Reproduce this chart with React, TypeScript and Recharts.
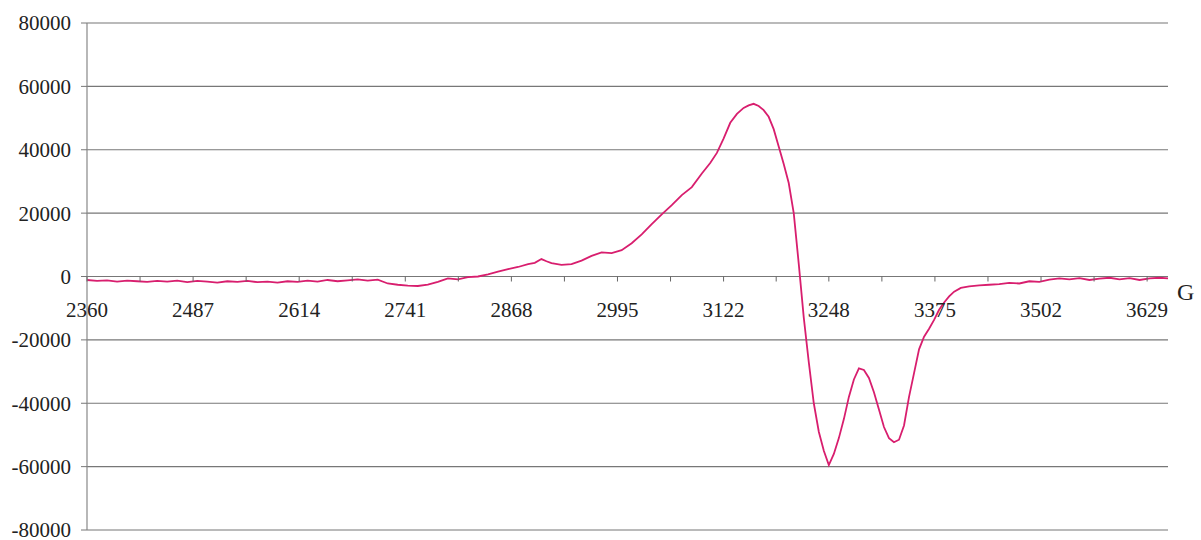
import React from 'react';
import { LineChart, Line, XAxis, YAxis, CartesianGrid } from 'recharts';

// magnetic field (G) and signal intensity
const field = [
  2360, 2372, 2384, 2396, 2408, 2420, 2432, 2444, 2456, 2468, 2480, 2492, 2504, 2516, 2528,
  2540, 2552, 2564, 2576, 2588, 2600, 2612, 2624, 2636, 2648, 2660, 2672, 2684, 2696, 2708,
  2720, 2732, 2744, 2756, 2768, 2780, 2792, 2804, 2816, 2828, 2840, 2852, 2864, 2876, 2888,
  2896, 2904, 2910, 2916, 2928, 2940, 2952, 2964, 2976, 2988, 3000, 3012, 3024, 3036, 3048,
  3060, 3072, 3084, 3096, 3106, 3114, 3122, 3130, 3138, 3146, 3152, 3158, 3164, 3170, 3176,
  3182, 3188, 3194, 3200, 3206, 3212, 3218, 3224, 3230, 3236, 3242, 3248, 3254, 3260, 3266,
  3272, 3278, 3284, 3290, 3296, 3302, 3308, 3314, 3320, 3326, 3332, 3338, 3344, 3350, 3356,
  3362, 3368, 3374, 3380, 3386, 3392, 3398, 3406, 3416, 3428, 3440, 3452, 3464, 3476, 3488,
  3500, 3512, 3524, 3536, 3548, 3560, 3572, 3584, 3596, 3608, 3620, 3632, 3644, 3654,
];

const signal = [
  -1100, -1400, -1200, -1600, -1300, -1500, -1700, -1400, -1600, -1300, -1800, -1400, -1600, -1900, -1500,
  -1700, -1400, -1800, -1600, -1900, -1500, -1700, -1300, -1600, -1100, -1500, -1200, -900, -1300, -1000,
  -2200, -2600, -2900, -3000, -2600, -1700, -600, -900, -200, 0, 700, 1500, 2300, 3000, 3900,
  4300, 5500, 4800, 4200, 3700, 3900, 5000, 6500, 7600, 7400, 8300, 10500, 13300, 16500, 19600,
  22500, 25700, 28200, 32500, 35800, 39000, 43500, 48500, 51300, 53200, 54000, 54500, 53800, 52500, 50400,
  46500, 41000, 35500, 29500, 20000, 4000, -13000, -27000, -40000, -49000, -55000, -59500, -56000, -51000, -45000,
  -38000, -32500, -29000, -29500, -32000, -36500, -42000, -47500, -51000, -52300, -51500, -47000, -38000, -30500, -23000,
  -19000, -16500, -13700, -10500, -8200, -6300, -4800, -3600, -3100, -2800, -2600, -2400, -2000, -2200, -1500,
  -1700, -1000, -600, -900, -500, -1100, -700, -400, -900, -500, -1100, -600, -400, -600,
];

const xLabels = [2360, 2487, 2614, 2741, 2868, 2995, 3122, 3248, 3375, 3502, 3629];
const yTicks = [-80000, -60000, -40000, -20000, 0, 20000, 40000, 60000, 80000];

const W = 1201;
const H = 540;
const TOP = 23;
const BOTTOM = 10;
const PLOT_H = H - TOP - BOTTOM;
const ZERO_Y = TOP + PLOT_H / 2;
const FONT = '"Liberation Serif", "Times New Roman", serif';

const data = field.map((g, i) => ({ g, v: signal[i] }));

// labelled ticks plus a small tick halfway between each pair
const xTicks: number[] = [];
xLabels.forEach((t, i) => {
  xTicks.push(t);
  if (i < xLabels.length - 1) xTicks.push((t + xLabels[i + 1]) / 2);
});

// the x axis crosses at y = 0, so ticks are drawn at the zero line
const FieldTick = (props: any) => {
  const { x, payload } = props;
  const v = payload.value;
  const show = xLabels.includes(v);
  return (
    <g>
      <line x1={x} x2={x} y1={ZERO_Y} y2={ZERO_Y + 5} stroke="#666" strokeWidth={1} />
      {show && (
        <text
          x={x}
          y={ZERO_Y + 40}
          textAnchor="middle"
          fontSize={21}
          fontFamily={FONT}
          fill="#222"
        >
          {v}
        </text>
      )}
    </g>
  );
};

export default function App() {
  return (
    <div style={{ position: 'absolute', left: 0, top: 0, width: W, height: H, background: '#fff' }}>
      <LineChart
        width={W}
        height={H}
        data={data}
        margin={{ top: TOP, right: 33, bottom: 0, left: 0 }}
      >
        <CartesianGrid vertical={false} stroke="#777" strokeWidth={1.2} />
        <XAxis
          dataKey="g"
          type="number"
          domain={[2360, 3654]}
          ticks={xTicks}
          interval={0}
          height={BOTTOM}
          axisLine={false}
          tickLine={false}
          tick={<FieldTick />}
        />
        <YAxis
          type="number"
          domain={[-80000, 80000]}
          ticks={yTicks}
          interval={0}
          width={87}
          axisLine={{ stroke: '#888', strokeWidth: 1.2 }}
          tickLine={{ stroke: '#777' }}
          tickSize={6}
          tickMargin={10}
          tick={{ fontSize: 21, fontFamily: FONT, fill: '#222' }}
        />
        <Line
          type="linear"
          dataKey="v"
          stroke="#d81e6e"
          strokeWidth={1.8}
          dot={false}
          isAnimationActive={false}
        />
      </LineChart>
      <div
        style={{
          position: 'absolute',
          left: 1177,
          top: 280,
          fontSize: 24,
          fontFamily: FONT,
          color: '#222',
          lineHeight: 1,
        }}
      >
        G
      </div>
    </div>
  );
}
